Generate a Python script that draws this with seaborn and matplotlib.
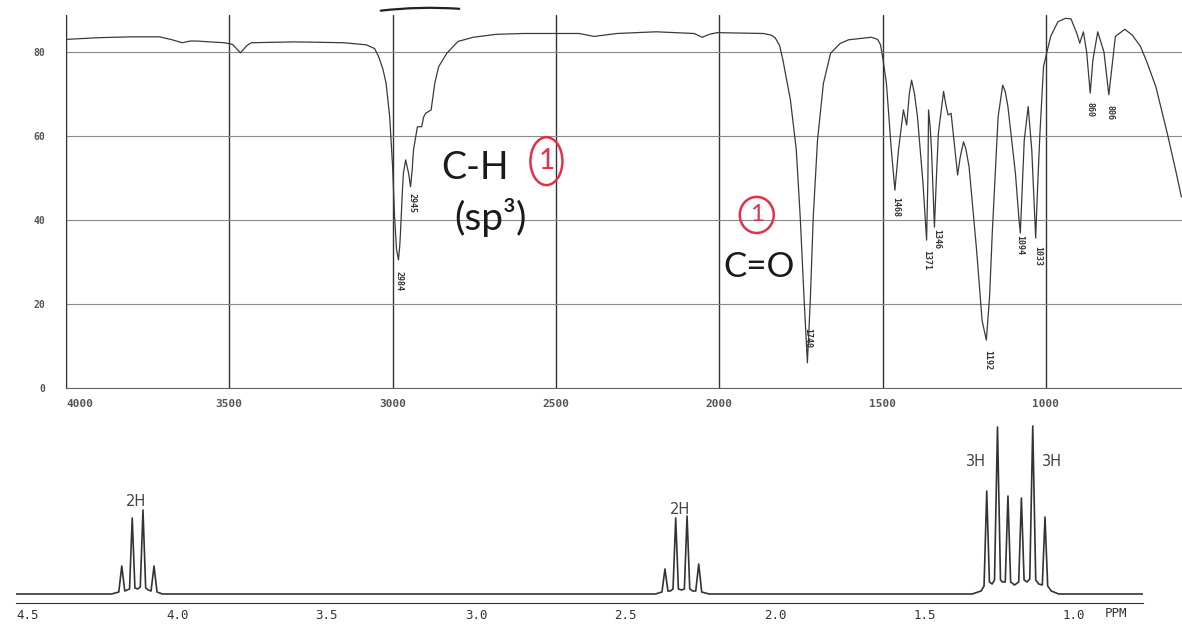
import pandas as pd
import seaborn as sns
import matplotlib.pyplot as plt
from matplotlib.patches import Ellipse
from matplotlib.ticker import MultipleLocator

# IR spectrum (wavenumber cm-1, %T)
ir_wavenumber = [3998, 3900, 3800, 3714, 3680, 3644, 3620, 3598, 3560, 3515, 3490, 3466, 3445, 3432,
                 3300, 3150, 3080, 3055, 3043, 3030, 3020, 3009, 3000, 2994, 2988, 2982, 2978, 2976,
                 2970, 2967, 2960, 2951, 2945, 2940, 2936, 2924, 2911, 2905, 2899, 2882, 2871, 2859,
                 2834, 2800, 2753, 2683, 2600, 2506, 2429, 2402, 2383, 2313, 2193, 2077, 2052, 2030,
                 2006, 1865, 1840, 1828, 1815, 1805, 1782, 1764, 1752, 1740, 1730, 1721, 1712, 1699,
                 1681, 1659, 1630, 1604, 1534, 1515, 1506, 1498, 1488, 1473, 1462, 1451, 1436, 1426,
                 1418, 1411, 1402, 1393, 1376, 1365, 1361, 1359, 1354, 1350, 1341, 1335, 1329, 1313,
                 1305, 1299, 1290, 1280, 1270, 1262, 1252, 1245, 1235, 1212, 1195, 1182, 1172, 1164,
                 1146, 1132, 1124, 1116, 1093, 1082, 1078, 1072, 1066, 1054, 1043, 1031, 1025, 1018,
                 1007, 995, 985, 963, 940, 923, 905, 896, 885, 875, 864, 856, 841, 822, 807, 798,
                 787, 758, 735, 710, 690, 663, 628, 598, 585]
ir_transmittance = [83.0, 83.4, 83.6, 83.6, 83.0, 82.2, 82.6, 82.6, 82.4, 82.2, 81.8, 79.8, 81.6, 82.2,
                    82.4, 82.2, 81.7, 80.8, 78.9, 76.0, 72.6, 64.6, 52.7, 40.8, 33.0, 30.5, 34.0, 36.8,
                    47.0, 51.1, 54.3, 51.1, 47.9, 52.0, 56.7, 62.2, 62.2, 64.5, 65.4, 66.2, 72.5, 76.5,
                    79.7, 82.5, 83.5, 84.2, 84.4, 84.4, 84.4, 84.0, 83.7, 84.4, 84.8, 84.4, 83.5, 84.2,
                    84.6, 84.4, 84.0, 83.3, 81.5, 78.1, 68.6, 56.7, 40.8, 21.0, 6.0, 21.0, 40.8, 59.0,
                    72.5, 79.7, 82.0, 82.9, 83.5, 83.0, 81.7, 78.0, 72.5, 56.7, 47.1, 56.7, 66.2, 62.6,
                    70.0, 73.3, 70.0, 64.6, 48.7, 35.2, 50.0, 66.2, 62.0, 56.7, 38.3, 50.0, 60.6, 70.6,
                    67.0, 65.0, 65.4, 58.0, 50.7, 55.0, 58.6, 57.0, 52.7, 32.9, 16.0, 11.4, 22.0, 36.8,
                    64.6, 72.1, 70.5, 67.0, 51.1, 40.0, 36.9, 48.0, 59.0, 67.0, 56.7, 35.7, 48.0, 60.6,
                    76.5, 80.5, 83.7, 87.2, 88.0, 87.9, 84.4, 82.1, 84.8, 80.0, 70.2, 78.0, 84.8, 80.0,
                    69.8, 76.0, 83.7, 85.4, 84.0, 81.3, 77.5, 71.7, 60.6, 50.3, 45.5]

ir_peak_labels = ['2984', '2945', '1740', '1468', '1371', '1346', '1192', '1094', '1033', '860', '806']
ir_label_wn = [2979, 2942, 1729, 1460, 1365, 1334, 1178, 1080, 1025, 865, 804]
ir_label_t = [25.5, 44.0, 12.0, 43.1, 30.5, 35.5, 6.7, 34.0, 31.4, 66.2, 65.5]

ir_xticks = [4000, 3500, 3000, 2500, 2000, 1500, 1000]
ir_yticks = [0, 20, 40, 60, 80]

# 1H NMR trace (ppm, intensity)
nmr_ppm = [4.54, 4.22, 4.196, 4.186, 4.176, 4.168, 4.160, 4.151, 4.142, 4.133, 4.124, 4.115, 4.106,
           4.097, 4.088, 4.078, 4.068, 4.05,
           2.40, 2.378, 2.368, 2.358, 2.350, 2.341, 2.332, 2.323, 2.313, 2.303, 2.294, 2.285, 2.275,
           2.265, 2.255, 2.245, 2.22,
           1.34, 1.31, 1.300, 1.291, 1.282, 1.273, 1.265, 1.255, 1.245, 1.238, 1.229, 1.220, 1.211,
           1.198, 1.184, 1.175, 1.166, 1.156, 1.147, 1.137, 1.127, 1.117, 1.105, 1.096, 1.087, 1.075,
           1.05, 0.77]
nmr_intensity = [0, 0, 2, 28, 3, 4, 5, 76, 6, 5, 7, 84, 6,
                 4, 3, 28, 2, 0,
                 0, 2, 25, 3, 3, 5, 76, 5, 4, 5, 78, 5, 3,
                 3, 30, 2, 0,
                 0, 3, 8, 103, 12, 10, 14, 167, 14, 12, 12, 98, 12,
                 9, 12, 96, 14, 12, 15, 168, 14, 10, 9, 77, 8, 3,
                 0, 0]

nmr_xticks = [4.5, 4.0, 3.5, 3.0, 2.5, 2.0, 1.5, 1.0]
nmr_labels = ['2H', '2H', '3H', '3H']
nmr_label_ppm = [4.140, 2.318, 1.328, 1.073]
nmr_label_int = [92, 85, 132, 132]

sns.set_style('white')
plt.rcParams['font.family'] = ['DejaVu Sans']
MONO = 'DejaVu Sans Mono'
HAND = ['Lato', 'DejaVu Sans']
RED = '#e6304b'

fig = plt.figure(figsize=(11.82, 6.25), dpi=100)
ax_ir = fig.add_axes([66 / 1182, 1 - 388 / 625, 1 - 66 / 1182, 373 / 625])
ax_nmr = fig.add_axes([16 / 1182, 1 - 603 / 625, 1127 / 1182, 188 / 625])

# ---- IR ----
ir_df = pd.DataFrame({'wavenumber': ir_wavenumber, 'transmittance': ir_transmittance})
sns.lineplot(data=ir_df, x='wavenumber', y='transmittance', sort=False, estimator=None,
             color='#3a3a3a', lw=0.9, ax=ax_ir)
ax_ir.set_xlim(4000, 583)
ax_ir.set_ylim(0, 88.8)
ax_ir.set_xticks(ir_xticks, labels=[str(t) for t in ir_xticks],
                 fontfamily=MONO, fontweight='bold', fontsize=8, color='#555')
ax_ir.set_yticks(ir_yticks, labels=[str(t) for t in ir_yticks],
                 fontfamily=MONO, fontweight='bold', fontsize=7, color='#555')
ax_ir.xaxis.set_minor_locator(MultipleLocator(100))
ax_ir.yaxis.set_minor_locator(MultipleLocator(5))
ax_ir.get_xticklabels()[0].set_horizontalalignment('left')
ax_ir.grid(axis='x', which='major', color='#333', lw=1.0)
ax_ir.grid(axis='y', which='major', color='#8a8a8a', lw=0.8)
ax_ir.tick_params(axis='x', which='major', direction='out', length=6, width=1.0, color='#333', pad=2)
ax_ir.tick_params(axis='x', which='minor', direction='in', length=5, width=0.8, color='#666')
ax_ir.tick_params(axis='y', which='major', direction='out', length=13, width=0.8, color='#888', pad=2)
ax_ir.tick_params(axis='y', which='minor', direction='out', length=8, width=0.8, color='#888')
for s in ['top', 'right']:
    ax_ir.spines[s].set_visible(False)
ax_ir.spines['left'].set_color('#333')
ax_ir.spines['bottom'].set_color('#666')
ax_ir.set_xlabel('')
ax_ir.set_ylabel('')

for lab, wn, t in zip(ir_peak_labels, ir_label_wn, ir_label_t):
    ax_ir.text(wn, t, lab, rotation=270, ha='center', va='center', fontsize=6,
               fontfamily=MONO, fontweight='bold', color='#333')

# handwritten notes
ax_ir.text(2749, 52.4, 'C-H', fontsize=27, fontfamily=HAND, color='#1a1a1a',
           ha='center', va='center')
ax_ir.text(2700, 40.7, '(sp³)', fontsize=28, fontfamily=HAND, color='#1a1a1a',
           ha='center', va='center')
ax_ir.text(1879, 28.8, 'C=O', fontsize=25, fontfamily=HAND, color='#1a1a1a',
           ha='center', va='center')
ax_ir.add_patch(Ellipse((2529, 54.0), 98, 11.4, fill=False, ec=RED, lw=1.8))
ax_ir.text(2529, 54.0, '1', fontsize=20, fontfamily=HAND, color=RED,
           ha='center', va='center')
ax_ir.add_patch(Ellipse((1885, 41.2), 104, 8.6, fill=False, ec=RED, lw=1.8))
ax_ir.text(1885, 41.2, '1', fontsize=17, fontfamily=HAND, color=RED,
           ha='center', va='center')
ax_ir.annotate('', xy=(462 / 1182, 1 - 9 / 625), xytext=(378 / 1182, 1 - 11 / 625),
               xycoords='figure fraction', textcoords='figure fraction',
               arrowprops=dict(arrowstyle='-', color='#222', lw=1.6,
                               connectionstyle='arc3,rad=-0.05'))

# ---- NMR ----
sns.lineplot(x=nmr_ppm, y=nmr_intensity, sort=False, estimator=None,
             color='#333', lw=1.2, ax=ax_nmr)
ax_nmr.set_xlim(4.54, 0.768)
ax_nmr.set_ylim(-9, 179)
ax_nmr.set_xticks(nmr_xticks, labels=[f'{t:.1f}' for t in nmr_xticks],
                  fontfamily=MONO, fontsize=9, color='#333')
ax_nmr.set_yticks([])
ax_nmr.xaxis.set_minor_locator(MultipleLocator(0.1))
ax_nmr.tick_params(axis='x', which='major', direction='inout', length=9, width=1.0, color='#333', pad=0)
ax_nmr.tick_params(axis='x', which='minor', direction='out', length=3, width=1.0, color='#333')
for s in ['top', 'right', 'left']:
    ax_nmr.spines[s].set_visible(False)
ax_nmr.spines['bottom'].set_color('#333')
ax_nmr.grid(False)
ax_nmr.set_xlabel('')
ax_nmr.set_ylabel('')

for lab, p, h in zip(nmr_labels, nmr_label_ppm, nmr_label_int):
    ax_nmr.text(p, h, lab, fontsize=10.5, color='#444', ha='center', va='center')
ax_nmr.annotate('PPM', xy=(0.86, 0), xycoords=('data', 'axes fraction'),
                xytext=(0, -7.5), textcoords='offset points', ha='center', va='center',
                fontfamily=MONO, fontsize=9, color='#333')

fig.savefig('out.png', dpi=100)
